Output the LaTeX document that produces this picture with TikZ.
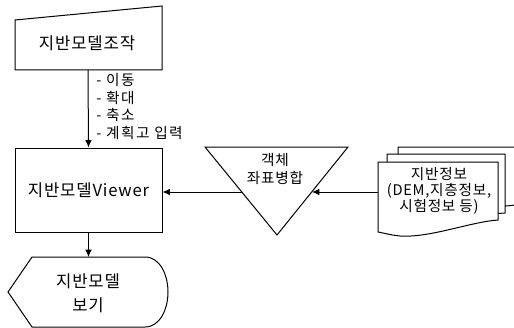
\documentclass[tikz,border=0pt]{standalone}
\usepackage{fontspec}
\setmainfont{Noto Sans CJK KR}
\newfontfamily\krwide[LetterSpace=10]{Noto Sans CJK KR}
\newfontfamily\krmid[LetterSpace=5]{Noto Sans CJK KR}
\usetikzlibrary{arrows.meta}
\tikzset{
  shp/.style={draw=black, line width=0.75pt, fill=white, line join=miter},
  arr/.style={draw=black, line width=0.75pt, -{Latex[length=5.5pt,width=5pt]}},
  big/.style={font=\krmid\fontsize{12.5pt}{15pt}\selectfont, align=center, inner sep=0pt},
  mid/.style={font=\krmid\fontsize{11pt}{12pt}\selectfont, align=center, inner sep=0pt},
  small/.style={font=\krwide\fontsize{11pt}{13.3pt}\selectfont, align=left, inner sep=0pt},
}
\begin{document}
\begin{tikzpicture}[x=0.75pt,y=-0.75pt]
\clip (0,0) rectangle (514,328);
\fill[white] (0,0) rectangle (514,328);

% manual operation
\draw[shp] (15,20) -- (162,6) -- (162,70) -- (15,70) -- cycle;
\node[big] (manip) at (87,43) {지반모델조작};
\coordinate (manipB) at (88,70);

% labels
\node[small, anchor=west] (ops) at (96,106.5) {- 이동\\- 확대\\- 축소\\- 계획고 입력};

% viewer
\node[shp, big, minimum width=110.25pt, minimum height=63pt] (viewer) at (88.5,190) {지반모델Viewer};

% display
\draw[shp] (8,292) -- (32,257) -- (145,257) .. controls (160,257) and (168,275) .. (168,292)
  .. controls (168,309) and (160,327) .. (145,327) -- (32,327) -- cycle;
\node[big] (disp) at (88,293) {지반모델\\[3pt]보기};
\coordinate (dispT) at (88.5,257);

% merge triangle
\draw[shp] (205,147) -- (348,147) -- (277,235) -- cycle;
\node[mid] (merge) at (275,169) {객체\\[2pt]좌표병합};
\coordinate (mergeL) at (242,192);
\coordinate (mergeR) at (312,192);

% multi document
\draw[shp] (398,147) -- (530,147) -- (530,205) -- (515,205) .. controls (480,210) and (440,200) .. (398,205) -- cycle;
\draw[shp] (387,154) -- (505,154) -- (505,213) .. controls (470,216) and (430,205) .. (387,214) -- cycle;
\draw[shp] (378,162) -- (498,162) -- (498,220) .. controls (470,222) and (430,238) .. (400,236) .. controls (390,235) and (384,233) .. (378,232) -- cycle;
\node[mid] (doc) at (439,191) {지반정보\\(DEM,지층정보,\\시험정보 등)};
\coordinate (docL) at (378,192);

% connectors
\draw[arr] (manipB) -- (viewer.north);
\draw[arr] (viewer.south) -- (dispT);
\draw[arr] (docL) -- (mergeR);
\draw[arr] (mergeL) -- (viewer.east |- mergeL);
\end{tikzpicture}
\end{document}
